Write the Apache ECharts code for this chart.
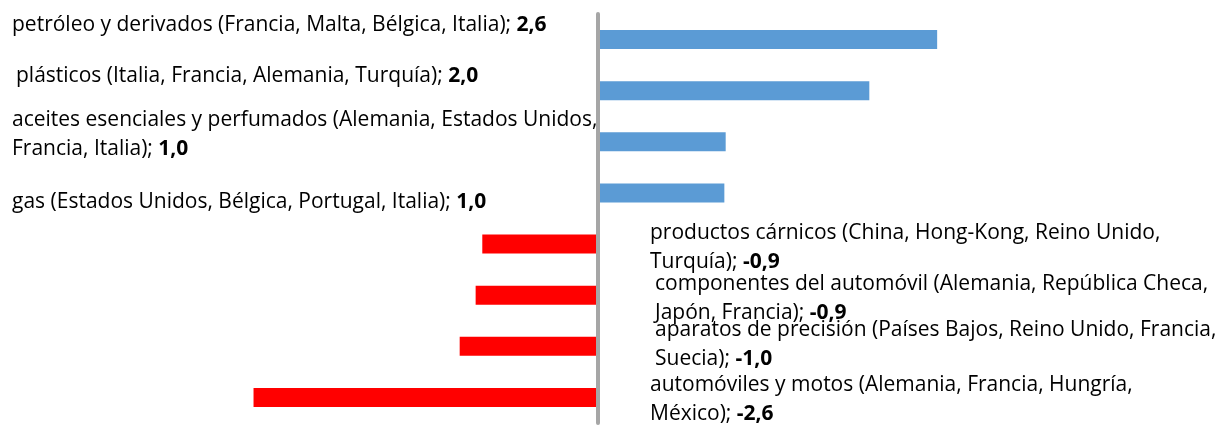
<!DOCTYPE html>
<html>
<head>
<meta charset="utf-8">
<script src="https://cdn.jsdelivr.net/npm/echarts@6/dist/echarts.min.js"></script>
<style>
html, body { margin: 0; padding: 0; background: #fff; }
#graph { width: 1226px; height: 425px; }
</style>
</head>
<body>
<div id="graph"></div>
<script>
// product groups with main countries (text shown next to each bar)
var products = [
    'petróleo y derivados (Francia, Malta, Bélgica, Italia); ',
    'plásticos (Italia, Francia, Alemania, Turquía); ',
    'aceites esenciales y perfumados (Alemania, Estados Unidos,\nFrancia, Italia); ',
    'gas (Estados Unidos, Bélgica, Portugal, Italia); ',
    'productos cárnicos (China, Hong-Kong, Reino Unido,\nTurquía); ',
    'componentes del automóvil (Alemania, República Checa,\nJapón, Francia); ',
    'aparatos de precisión (Países Bajos, Reino Unido, Francia,\nSuecia); ',
    'automóviles y motos (Alemania, Francia, Hungría,\nMéxico); '
];
var values = [2.55, 2.04, 0.96, 0.95, -0.87, -0.92, -1.04, -2.59];
var valueLabels = ['2,6', '2,0', '1,0', '1,0', '-0,9', '-0,9', '-1,0', '-2,6'];

// label nudges (x, y) to follow the hand placed labels of the original
var labelDx = [0, 4, 0, 0, 0, 5, 5, 0];
var labelDy = [-15, -15, -7, 9, 3, 3, -2, 2];

var dom = document.getElementById('graph');
var chart = echarts.init(dom);

var fontFamily = '"Open Sans", sans-serif';

chart.setOption({
    animation: false,
    grid: { left: 199, right: 229, top: 14, bottom: 2 },
    xAxis: {
        type: 'value',
        min: -3,
        max: 3,
        show: false
    },
    yAxis: {
        type: 'category',
        inverse: true,
        data: products,
        z: 5,
        axisLine: { lineStyle: { color: '#a6a6a6', width: 4 } },
        axisTick: { show: false },
        axisLabel: { show: false },
        splitLine: { show: false }
    },
    series: [{
        type: 'bar',
        barWidth: 19,
        data: values.map(function (v, i) {
            var pos = v >= 0;
            return {
                value: v,
                itemStyle: { color: pos ? '#5b9bd5' : '#ff0000' },
                label: pos
                    ? { position: 'insideLeft', distance: 0, offset: [-586 + labelDx[i], labelDy[i]] }
                    : { position: 'right', distance: 52, offset: [labelDx[i], labelDy[i]] }
            };
        }),
        label: {
            show: true,
            align: 'left',
            color: '#000',
            fontFamily: fontFamily,
            fontSize: 21,
            lineHeight: 29,
            formatter: function (p) {
                return '{a|' + products[p.dataIndex] + '}{b|' + valueLabels[p.dataIndex] + '}';
            },
            rich: {
                a: { fontFamily: fontFamily, fontSize: 21, lineHeight: 29, color: '#000' },
                b: { fontFamily: fontFamily, fontSize: 21, lineHeight: 29, color: '#000', fontWeight: 'bold' }
            }
        }
    }]
});
</script>
</body>
</html>
